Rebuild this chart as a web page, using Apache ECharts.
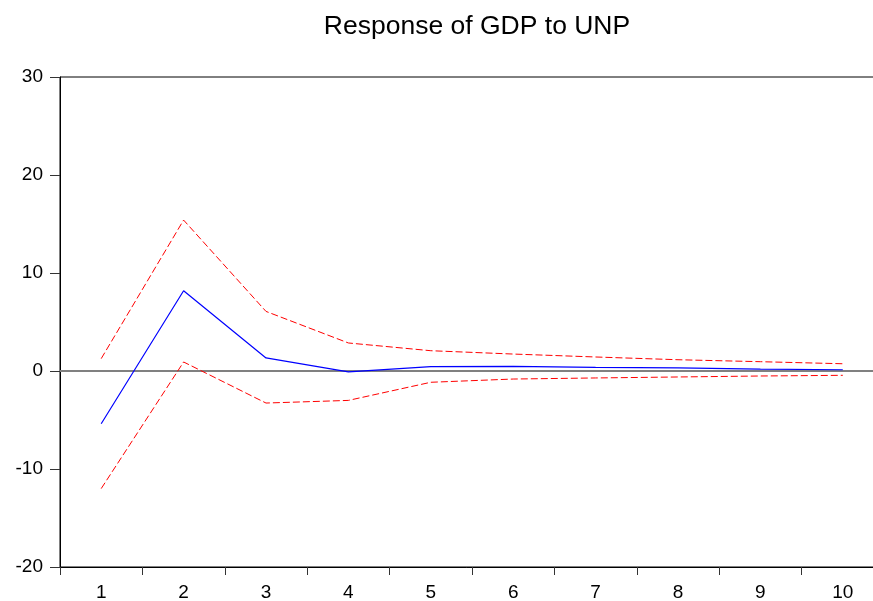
<!DOCTYPE html>
<html>
<head>
<meta charset="utf-8">
<script src="https://cdn.jsdelivr.net/npm/echarts@6/dist/echarts.min.js"></script>
<style>
  html, body { margin: 0; padding: 0; background: #fff; }
  #chart { width: 873px; height: 601px; }
</style>
</head>
<body>
<div id="chart"></div>
<script>
// periods
const periods = ['1', '2', '3', '4', '5', '6', '7', '8', '9', '10'];
// response of GDP to UNP
const response = [-5.38, 8.19, 1.33, -0.08, 0.44, 0.48, 0.37, 0.31, 0.2, 0.13];
// +/- 2 S.E. bands
const upperBand = [1.26, 15.4, 6.08, 2.86, 2.07, 1.73, 1.43, 1.15, 0.95, 0.74];
const lowerBand = [-12.0, 0.92, -3.27, -3.0, -1.15, -0.82, -0.71, -0.61, -0.51, -0.44];

const chart = echarts.init(document.getElementById('chart'));
const font = 'Liberation Sans, Arial, sans-serif';

const option = {
  animation: false,
  backgroundColor: '#fff',
  title: {
    text: 'Response of GDP to UNP',
    left: 472,
    textAlign: 'center',
    top: 8,
    textStyle: { fontFamily: font, fontSize: 26.5, fontWeight: 'normal', color: '#000' }
  },
  grid: {
    left: 60,
    top: 77,
    right: -11,
    bottom: 34,
    outerBoundsMode: 'none',
    containLabel: false,
    show: true,
    borderColor: '#000',
    borderWidth: 1
  },
  xAxis: {
    type: 'category',
    data: periods,
    boundaryGap: true,
    axisLine: { onZero: false, lineStyle: { color: '#000', width: 1 } },
    axisTick: { show: true, length: 8, lineStyle: { color: '#333' } },
    axisLabel: { fontFamily: font, fontSize: 19, color: '#000', margin: 16 },
    splitLine: { show: false }
  },
  yAxis: {
    type: 'value',
    min: -20,
    max: 30,
    interval: 10,
    axisLine: { show: true, lineStyle: { color: '#000', width: 1 } },
    axisTick: { show: true, length: 10, lineStyle: { color: '#333' } },
    axisLabel: { fontFamily: font, fontSize: 19, color: '#000', margin: 17 },
    splitLine: { show: false }
  },
  series: [
    {
      name: 'upper',
      type: 'line',
      data: upperBand,
      symbol: 'none',
      lineStyle: { color: '#ff0000', width: 1, type: [7, 3] },
      z: 3
    },
    {
      name: 'lower',
      type: 'line',
      data: lowerBand,
      symbol: 'none',
      lineStyle: { color: '#ff0000', width: 1, type: [7, 3] },
      z: 3
    },
    {
      name: 'response',
      type: 'line',
      data: response,
      symbol: 'none',
      lineStyle: { color: '#0000ff', width: 1.2 },
      z: 4,
      markLine: {
        silent: true,
        symbol: 'none',
        label: { show: false },
        lineStyle: { color: '#808080', width: 2, type: 'solid' },
        data: [{ yAxis: 0 }],
        z: 2
      }
    }
  ]
};

chart.setOption(option);
</script>
</body>
</html>
